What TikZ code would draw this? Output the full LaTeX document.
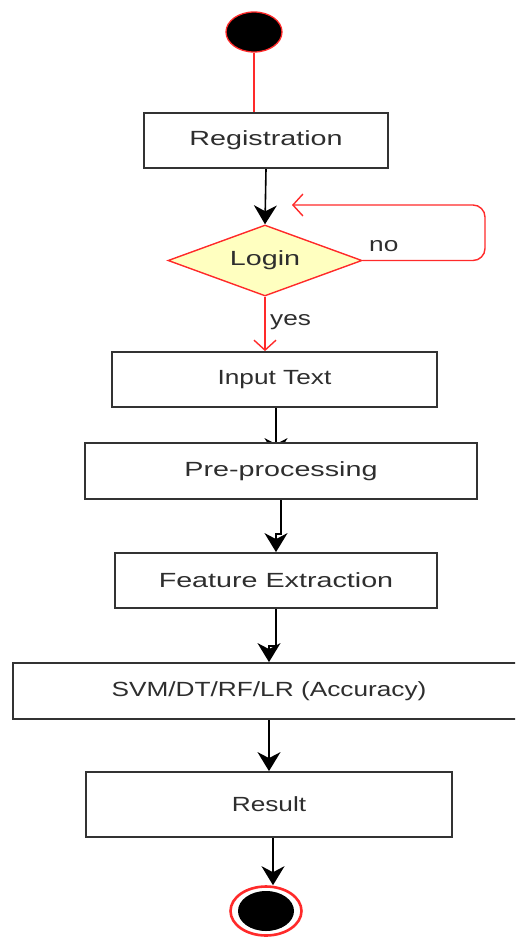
\documentclass[tikz,border=0pt]{standalone}
\usepackage{fontspec}
\setmainfont{Liberation Sans}
\newfontfamily\fwide[FakeStretch=1.40]{Liberation Sans}
\newfontfamily\fnarrow[FakeStretch=1.28]{Liberation Sans}
\usetikzlibrary{shapes.geometric,arrows.meta,calc}
\pgfdeclarelayer{bg}
\pgfsetlayers{bg,main}
\definecolor{txt}{HTML}{2E2E2E}
\definecolor{edge}{HTML}{333333}
\definecolor{lred}{HTML}{FF2A2A}
\definecolor{dyellow}{HTML}{FFFFC0}
\begin{document}
\begin{tikzpicture}[x=1pt,y=-1pt,
  actbox/.style={rectangle, draw=edge, line width=1.8pt, fill=white, inner sep=0pt, text=txt},
  wtext/.style={font=\fwide\fontsize{20.5}{24}\selectfont},
  ntext/.style={font=\fnarrow\fontsize{20.5}{24}\selectfont},
  blkarrow/.style={line width=1.6pt, draw=black, -{Stealth[length=19pt,width=23pt,inset=6pt]}},
  redline/.style={line width=1.4pt, draw=lred},
  redopen/.style={line width=1.4pt, draw=lred, -{Straight Barb[length=10pt,width=22pt,line width=1.4pt]}},
  lbl/.style={text=txt, inner sep=0pt}
]
\useasboundingbox (0,0) rectangle (515,938);
\begin{scope}
\clip (0,0) rectangle (515,938);

\node[ellipse, fill=black, draw=lred, line width=1.3pt, minimum width=56pt, minimum height=40pt, inner sep=0pt] (start) at (254,32) {};

\node[actbox, wtext, minimum width=244pt, minimum height=55pt] (reg) at (266,140.5) {Registration};

\node[diamond, draw=lred, line width=1.4pt, fill=dyellow, text=txt, wtext, minimum width=194pt, minimum height=71pt, inner sep=0pt, aspect=2.73] (login) at (265,260.5) {Login};

\node[actbox, ntext, minimum width=325pt, minimum height=55pt] (input) at (274.5,379.5) {Input Text};
\node[actbox, wtext, minimum width=392pt, minimum height=56pt] (pre) at (281,471) {Pre-processing};
\node[actbox, wtext, minimum width=322pt, minimum height=55pt] (feat) at (276,580.5) {Feature Extraction};
\node[actbox, ntext, minimum width=512pt, minimum height=56pt] (svm) at (269,691) {SVM/DT/RF/LR (Accuracy)};
\node[actbox, ntext, minimum width=366pt, minimum height=65pt] (res) at (269,804.5) {Result};

\node[ellipse, draw=lred, line width=2.6pt, fill=white, minimum width=71pt, minimum height=49pt, inner sep=0pt] (end) at (266,911) {};
\fill[black] (end.center) ellipse (28pt and 20pt);

\coordinate (loopend) at (292,205);
\node[lbl, ntext, anchor=south west] (nolbl) at (369,252) {no};
\node[lbl, ntext, anchor=south west] (yeslbl) at (270,330) {yes};

\begin{pgfonlayer}{bg}
\draw[redline] (start.south) -- (start.south |- reg.north);
\draw[blkarrow] (reg.south) -- (login.north);
\draw[redopen, rounded corners=12pt] (login.east) -- (485,260.5) -- (485,205) -- (loopend);
\draw[redopen] (login.south) -- (login.south |- input.north);
\draw[blkarrow] ([xshift=1.5pt]input.south) -- ([xshift=1.5pt,yshift=-15pt]input.south |- pre.north);
\draw[blkarrow] (pre.south) -- ++(0,34) -| (feat.north);
\draw[blkarrow] (feat.south) -- ++(0,37) -| (svm.north);
\draw[blkarrow] (svm.south) -- (res.north);
\draw[blkarrow] ([xshift=4pt]res.south) -- ([xshift=4pt]res.south |- end.north);
\end{pgfonlayer}
\end{scope}
\end{tikzpicture}
\end{document}
